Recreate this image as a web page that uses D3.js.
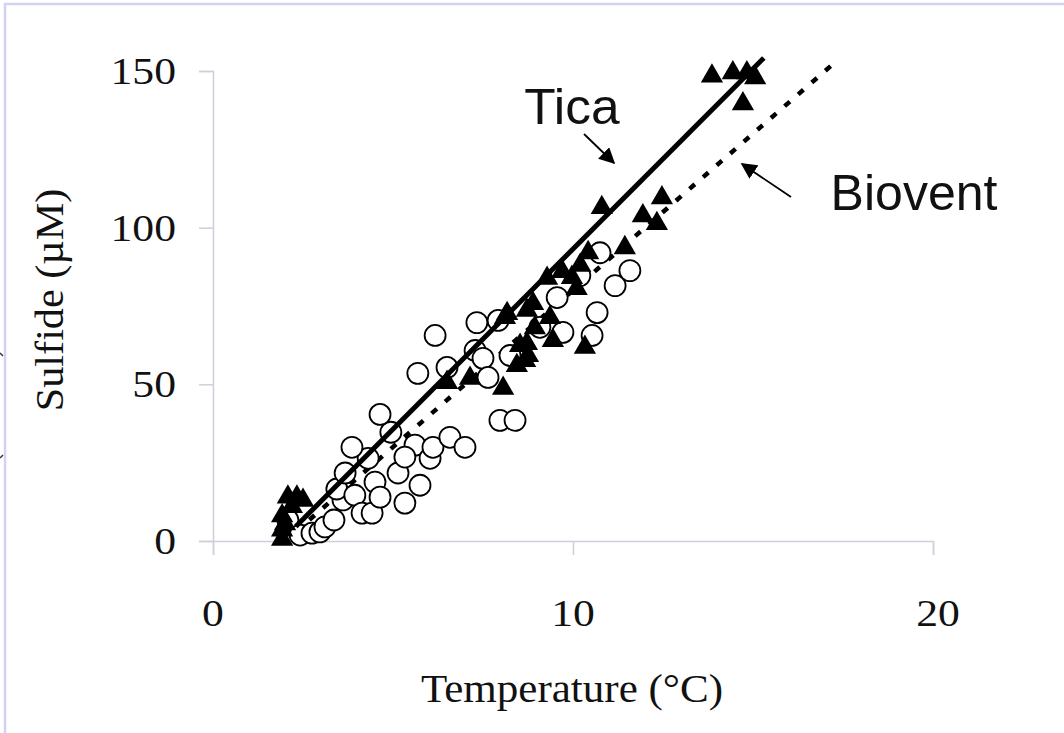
<!DOCTYPE html>
<html>
<head>
<meta charset="utf-8">
<script src="https://d3js.org/d3.v7.min.js"></script>
<style>
  body { margin: 0; background: #fff; }
  svg { display: block; }
  .axis path, .axis line { stroke: #cfcfdc; stroke-width: 1.5; }
</style>
</head>
<body>
<svg id="chart" width="1064" height="733"></svg>
<script>
// Biovent (open circles): temperature (°C), sulfide (µM)
var bioventTemp = [2.08, 2.42, 2.75, 2.97, 3.11, 3.36, 3.61, 3.44, 3.67, 3.94, 4.14, 4.42, 4.5, 4.64,
  4.31, 3.86, 4.94, 5.14, 5.33, 5.61, 5.75, 4.64, 5.33, 6.03, 6.17, 7.33, 7.92, 7.28, 7.5, 5.69, 6.5,
  7.64, 8.25, 7.97, 8.39, 6.11, 6.58, 7.0, 10.75, 10.19, 9.56, 10.67, 11.17, 11.58, 9.72, 10.53, 9.08];
var bioventSulfide = [6.7, 1.9, 2.5, 2.9, 4.5, 6.7, 13.1, 16.6, 21.7, 14.6, 8.9, 8.9, 18.8, 14.0,
  26.4, 29.9, 34.7, 21.7, 12.1, 30.6, 17.8, 40.4, 26.8, 26.4, 65.6, 69.7, 70.4, 60.8, 58.3, 53.5, 55.4,
  52.2, 59.2, 38.5, 38.5, 29.9, 33.1, 29.9, 92.0, 84.7, 77.7, 72.9, 81.5, 86.3, 66.6, 65.6, 68.2];

// Tica (filled triangles)
var ticaTemp = [2.08, 2.33, 2.5, 2.19, 1.92, 1.92, 1.92, 2.0, 6.5, 7.14, 8.06, 8.17, 8.72, 8.72, 8.75,
  8.44, 8.94, 10.8, 12.47, 11.94, 12.33, 11.44, 10.42, 9.97, 10.1, 9.28, 8.89, 8.11, 9.36, 9.44, 10.33,
  8.53, 8.67, 9.7, 10.2, 13.86, 14.44, 14.83, 15.06, 14.72];
var ticaSulfide = [14, 14, 13, 11, 8, 3.5, 0.5, 5.5, 50.6, 51.9, 48.7, 72.6, 73.6, 63, 59.2,
  56, 68, 106.4, 109.5, 103.8, 101.3, 93.6, 92, 84.1, 80.6, 83.8, 75.8, 71.3, 71.3, 64, 61.8,
  62.4, 57.6, 86, 88, 148.4, 149.4, 149.4, 147.8, 139.5];

// fitted lines: [x start, x end], slope, intercept
var ticaFitX = [2.3, 15.3], ticaSlope = 11.5, ticaIntercept = -21.8;
var bioventFitX = [2.3, 17.3], bioventSlope = 10.0, bioventIntercept = -20;

var xTicks = [0, 10, 20];
var yTicks = [0, 50, 100, 150];

var svg = d3.select("#chart");
var x = d3.scaleLinear().domain([0, 20]).range([213, 933]);
var y = d3.scaleLinear().domain([0, 150]).range([541, 71]);

// frame of the slide
svg.append("path")
  .attr("d", "M5,733V4H1064")
  .attr("fill", "none").attr("stroke", "#d2d2f6").attr("stroke-width", 2.5);
svg.append("path").attr("d", "M0,353l3,3M0,458l3,-3")
  .attr("stroke", "#333").attr("stroke-width", 1.5);

// axes
svg.append("g").attr("class", "axis")
  .attr("transform", "translate(0," + y(0) + ")")
  .call(d3.axisBottom(x).tickValues(xTicks).tickSize(14).tickFormat(""));
svg.append("g").attr("class", "axis")
  .attr("transform", "translate(" + x(0) + ",0)")
  .call(d3.axisLeft(y).tickValues(yTicks).tickSize(14).tickFormat(""));

function label(txt, px, py, size, anchor, family, sx, rot) {
  svg.append("text")
    .attr("transform", "translate(" + px + "," + py + ")" + (rot ? " rotate(" + rot + ")" : "") + " scale(" + sx + ",1)")
    .attr("text-anchor", anchor)
    .style("font-family", family)
    .style("font-size", size + "px")
    .attr("fill", "#111")
    .text(txt);
}
var serif = "'Liberation Serif', 'Times New Roman', serif";
var sans = "'Liberation Sans', Arial, sans-serif";

xTicks.forEach(function (t) { label(t, x(t) + (t == 20 ? 5 : 0), 626, 39, "middle", serif, 1.12); });
yTicks.forEach(function (t) { label(t, 176, y(t) + 13, 39, "end", serif, 1.12); });
label("Temperature (°C)", 572, 702, 41, "middle", serif, 1.05);
label("Sulfide (µM)", 63, 300, 41, "middle", serif, 1.03, -90);

// Biovent dotted fit
svg.append("path")
  .datum(bioventFitX)
  .attr("fill", "none").attr("stroke", "#000").attr("stroke-width", 4.5)
  .attr("stroke-dasharray", "7,11")
  .attr("d", d3.line().x(function (d) { return x(d); })
    .y(function (d) { return y(bioventSlope * d + bioventIntercept); }));

// circles
svg.append("g").selectAll("circle")
  .data(bioventTemp).enter().append("circle")
  .attr("cx", function (d) { return x(d); })
  .attr("cy", function (d, i) { return y(bioventSulfide[i]); })
  .attr("r", 10.5)
  .attr("fill", "#fff").attr("stroke", "#000").attr("stroke-width", 1.8);

// triangles
svg.append("g").selectAll("path")
  .data(ticaTemp).enter().append("path")
  .attr("transform", function (d, i) { return "translate(" + x(d) + "," + y(ticaSulfide[i]) + ")"; })
  .attr("d", d3.symbol(d3.symbolTriangle, 215))
  .attr("fill", "#000");

// Tica solid fit
svg.append("path")
  .datum(ticaFitX)
  .attr("fill", "none").attr("stroke", "#000").attr("stroke-width", 5)
  .attr("d", d3.line().x(function (d) { return x(d); })
    .y(function (d) { return y(ticaSlope * d + ticaIntercept); }));

// annotations
svg.append("defs").append("marker")
  .attr("id", "head").attr("viewBox", "0 0 10 10").attr("refX", 9).attr("refY", 5)
  .attr("markerWidth", 16).attr("markerHeight", 16).attr("markerUnits", "userSpaceOnUse")
  .attr("orient", "auto")
  .append("path").attr("d", "M0,0L10,5L0,10z").attr("fill", "#000");

svg.append("line").attr("x1", 584).attr("y1", 134).attr("x2", 614).attr("y2", 163)
  .attr("stroke", "#000").attr("stroke-width", 1.8).attr("marker-end", "url(#head)");
svg.append("line").attr("x1", 791).attr("y1", 197).attr("x2", 742).attr("y2", 164)
  .attr("stroke", "#000").attr("stroke-width", 1.8).attr("marker-end", "url(#head)");

label("Tica", 572, 124, 50, "middle", sans, 1.03);
label("Biovent", 914, 210, 50, "middle", sans, 1.0);
</script>
</body>
</html>
